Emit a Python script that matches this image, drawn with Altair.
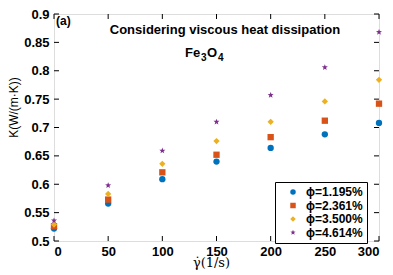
import math
import altair as alt
import pandas as pd

# ---- data ----
shear_rate = [0, 50, 100, 150, 200, 250, 300]
series_names = ["ϕ=1.195%", "ϕ=2.361%", "ϕ=3.500%", "ϕ=4.614%"]
k_1195 = [0.522, 0.566, 0.609, 0.640, 0.664, 0.688, 0.708]
k_2361 = [0.526, 0.573, 0.621, 0.652, 0.683, 0.712, 0.742]
k_3500 = [0.529, 0.583, 0.636, 0.676, 0.710, 0.746, 0.784]
k_4614 = [0.536, 0.598, 0.659, 0.710, 0.757, 0.806, 0.868]
x_ticks = [0, 50, 100, 150, 200, 250, 300]
y_ticks = [0.5, 0.55, 0.6, 0.65, 0.7, 0.75, 0.8, 0.85, 0.9]

colors = ["#0072BD", "#D95319", "#EDB120", "#7E2F8E"]

# star symbol path
pts = []
for i in range(10):
    a = -math.pi / 2 + i * math.pi / 5
    r = 1.0 if i % 2 == 0 else 0.42
    pts.append(f"{r*math.cos(a):.3f},{r*math.sin(a):.3f}")
star = "M" + "L".join(pts) + "Z"
shapes = ["circle", "square", "diamond", star]

rows = []
for name, vals in zip(series_names, [k_1195, k_2361, k_3500, k_4614]):
    for x, v in zip(shear_rate, vals):
        rows.append({"rate": x, "K": v, "series": name})
df = pd.DataFrame(rows)
xt = pd.DataFrame({"v": x_ticks})
yt = pd.DataFrame({"v": y_ticks})

W, H = 325, 227
TL = 5  # tick length
xscale = alt.Scale(domain=[0, 300], nice=False, zero=False)
yscale = alt.Scale(domain=[0.5, 0.9], nice=False, zero=False)

lab = dict(labelFont="Liberation Sans", labelFontWeight="bold", labelFontSize=13,
           labelColor="black", ticks=False, domain=False, grid=False,
           labelOverlap=False)

points = alt.Chart(df).mark_point(filled=True, opacity=1).encode(
    x=alt.X("rate:Q", scale=xscale,
            axis=alt.Axis(orient="bottom", values=x_ticks, labelPadding=4,
                          title="γ̇(1/s)", titleFont="DejaVu Serif",
                          titleFontSize=13, titleFontWeight="normal",
                          titleColor="black", titlePadding=-2, titleX=157, **lab)),
    y=alt.Y("K:Q", scale=yscale,
            axis=alt.Axis(orient="left", values=y_ticks, format=".2~f", labelPadding=5,
                          title="K(W/(m·K))", titleFont="Liberation Sans",
                          titleFontSize=12, titleFontWeight="normal",
                          titleColor="black", titleX=-46, titleY=93,
                          titleAngle=270, titleBaseline="top", titleAlign="center", **lab)),
    color=alt.Color("series:N", scale=alt.Scale(domain=series_names, range=colors),
                    legend=alt.Legend(orient="none", legendX=221, legendY=168, title=None,
                                      strokeColor="black", fillColor="white", padding=4,
                                      labelFont="Liberation Sans", labelFontWeight="bold",
                                      labelFontSize=12, labelColor="black", symbolSize=30,
                                      rowPadding=1.5, labelOffset=7, symbolOffset=8)),
    shape=alt.Shape("series:N", scale=alt.Scale(domain=series_names, range=shapes)),
    size=alt.value(40),
)

tick_style = dict(color="black", strokeWidth=1)
xb = alt.Chart(xt).mark_rule(**tick_style).encode(
    x=alt.X("v:Q", scale=xscale, axis=None), y=alt.value(H), y2=alt.value(H - TL))
xtp = alt.Chart(xt).mark_rule(**tick_style).encode(
    x=alt.X("v:Q", scale=xscale, axis=None), y=alt.value(0), y2=alt.value(TL))
yl = alt.Chart(yt).mark_rule(**tick_style).encode(
    y=alt.Y("v:Q", scale=yscale, axis=None), x=alt.value(0), x2=alt.value(TL))
yr = alt.Chart(yt).mark_rule(**tick_style).encode(
    y=alt.Y("v:Q", scale=yscale, axis=None), x=alt.value(W), x2=alt.value(W - TL))

def txt(t, x, y, size=13, weight="bold", align="left"):
    return alt.Chart(pd.DataFrame({"a": [0]})).mark_text(
        text=t, font="Liberation Sans", fontSize=size, fontWeight=weight,
        align=align, baseline="middle", color="black"
    ).encode(x=alt.value(x), y=alt.value(y))

annot = [
    txt("(a)", 2, 7, size=12),
    txt("Considering viscous heat dissipation", 171, 16, size=13, align="center"),
    txt("Fe", 131, 39),
    txt("3", 147, 44, size=10),
    txt("O", 153, 39),
    txt("4", 164, 44, size=10),
]

chart = alt.layer(points, xb, xtp, yl, yr, *annot).resolve_axis(
    x="independent", y="independent"
).properties(
    width=W, height=H,
    autosize=alt.AutoSizeParams(type="none"),
    padding={"left": 46, "top": 6, "right": 6, "bottom": 40},
).configure_view(stroke="black", strokeWidth=1.5).configure(background="white")

chart.save("out.html", embed_options={"renderer": "svg", "actions": False})
